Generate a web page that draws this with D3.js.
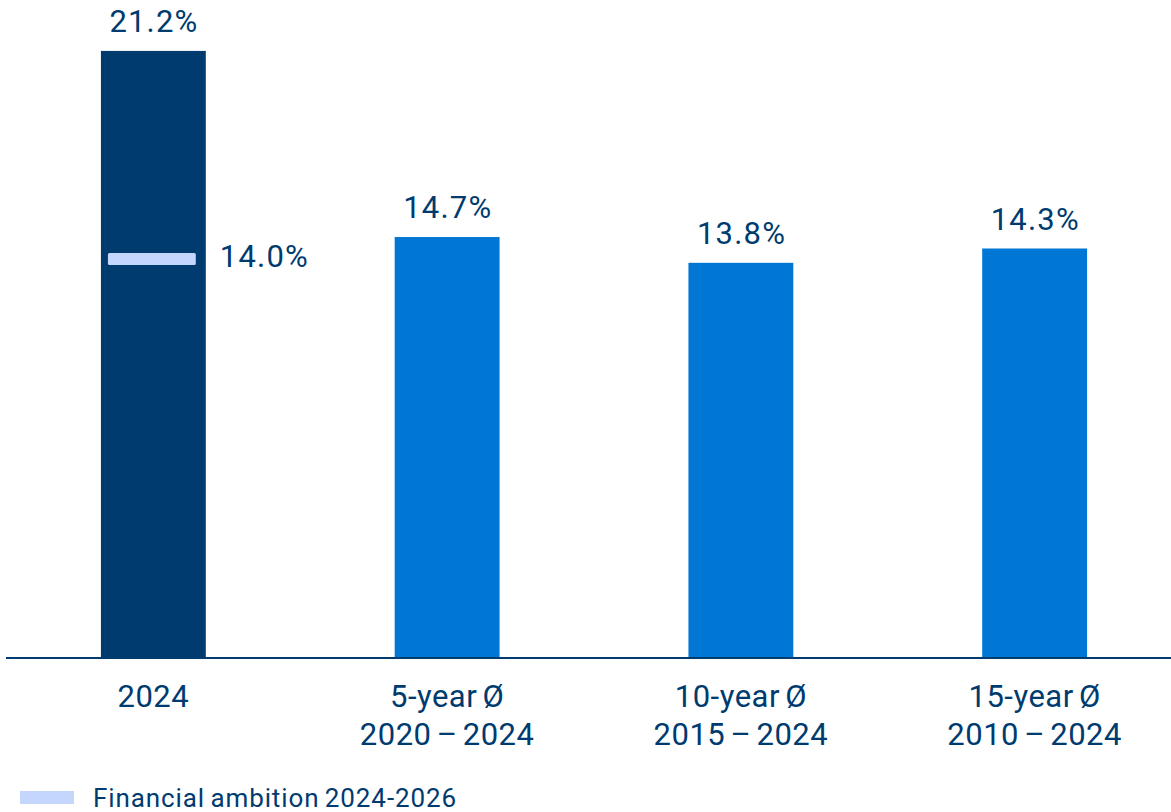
<!DOCTYPE html>
<html>
<head>
<meta charset="utf-8">
<script src="https://cdn.jsdelivr.net/npm/d3@7"></script>
<style>
  html, body { margin: 0; padding: 0; background: #fff; }
  svg { display: block; font-family: Roboto, "Noto Sans", sans-serif; }
</style>
</head>
<body>
<div id="chart"></div>
<script>
// data
const categories = ["2024", "5-year Ø", "10-year Ø", "15-year Ø"]
const periods = ["", "2020 – 2024", "2015 – 2024", "2010 – 2024"]
const values = [21.2, 14.7, 13.8, 14.3]
const ambition = [14.0, null, null, null]
const legendLabel = "Financial ambition 2024-2026"

const width = 1171
const height = 812
const navy = "#003b6f"
const blue = "#0077d5"
const light = "#c4d6fb"

const svg = d3.select("#chart").append("svg")
    .attr("width", width)
    .attr("height", height)

const x = d3.scaleBand()
    .domain(categories)
    .range([12.8, 1175.2])
    .paddingInner(0.643)
    .paddingOuter(0.3)

const y = d3.scaleLinear()
    .domain([0, 22])
    .range([658, 28])

// bars
svg.append("g")
    .selectAll("rect")
    .data(values)
    .enter().append("rect")
    .attr("x", (d, i) => x(categories[i]))
    .attr("y", d => y(d))
    .attr("width", x.bandwidth())
    .attr("height", d => y(0) - y(d))
    .attr("fill", (d, i) => i === 0 ? navy : blue)

// value labels
svg.append("g")
    .selectAll("text")
    .data(values)
    .enter().append("text")
    .attr("x", (d, i) => x(categories[i]) + x.bandwidth() / 2 + 0.6)
    .attr("y", d => y(d) - 19)
    .attr("text-anchor", "middle")
    .attr("font-size", "31px")
    .attr("letter-spacing", "1.2px")
    .attr("fill", navy)
    .text(d => d.toFixed(1) + "%")

// ambition marker
const amb = ambition.map((d, i) => ({ v: d, c: categories[i] })).filter(d => d.v != null)
svg.append("g")
    .selectAll("rect")
    .data(amb)
    .enter().append("rect")
    .attr("x", d => x(d.c) + 7)
    .attr("y", d => y(d.v) - 4)
    .attr("width", x.bandwidth() - 17)
    .attr("height", 12)
    .attr("rx", 1.5)
    .attr("fill", light)

svg.append("g")
    .selectAll("text")
    .data(amb)
    .enter().append("text")
    .attr("x", d => x(d.c) + x.bandwidth() + 14)
    .attr("y", d => y(d.v) + 10)
    .attr("font-size", "31px")
    .attr("letter-spacing", "1.2px")
    .attr("fill", navy)
    .text(d => d.v.toFixed(1) + "%")

// baseline
svg.append("line")
    .attr("x1", 6).attr("x2", width)
    .attr("y1", y(0)).attr("y2", y(0))
    .attr("stroke", navy)
    .attr("stroke-width", 2)

// category labels
const xl = svg.append("g")
    .selectAll("text")
    .data(categories)
    .enter().append("text")
    .attr("x", d => x(d) + x.bandwidth() / 2)
    .attr("y", 707)
    .attr("text-anchor", "middle")
    .attr("font-size", "31px")
    .attr("letter-spacing", "0.5px")
    .attr("word-spacing", "-3px")
    .attr("fill", navy)
xl.append("tspan").text(d => d)
xl.append("tspan")
    .attr("x", d => x(d) + x.bandwidth() / 2)
    .attr("dy", 38)
    .text((d, i) => periods[i])

// legend
svg.append("rect")
    .attr("x", 20).attr("y", 791)
    .attr("width", 54).attr("height", 13)
    .attr("fill", light)
svg.append("text")
    .attr("x", 93).attr("y", 807)
    .attr("font-size", "26px")
    .attr("letter-spacing", "0.9px")
    .attr("word-spacing", "-2px")
    .attr("fill", navy)
    .text(legendLabel)
</script>
</body>
</html>
